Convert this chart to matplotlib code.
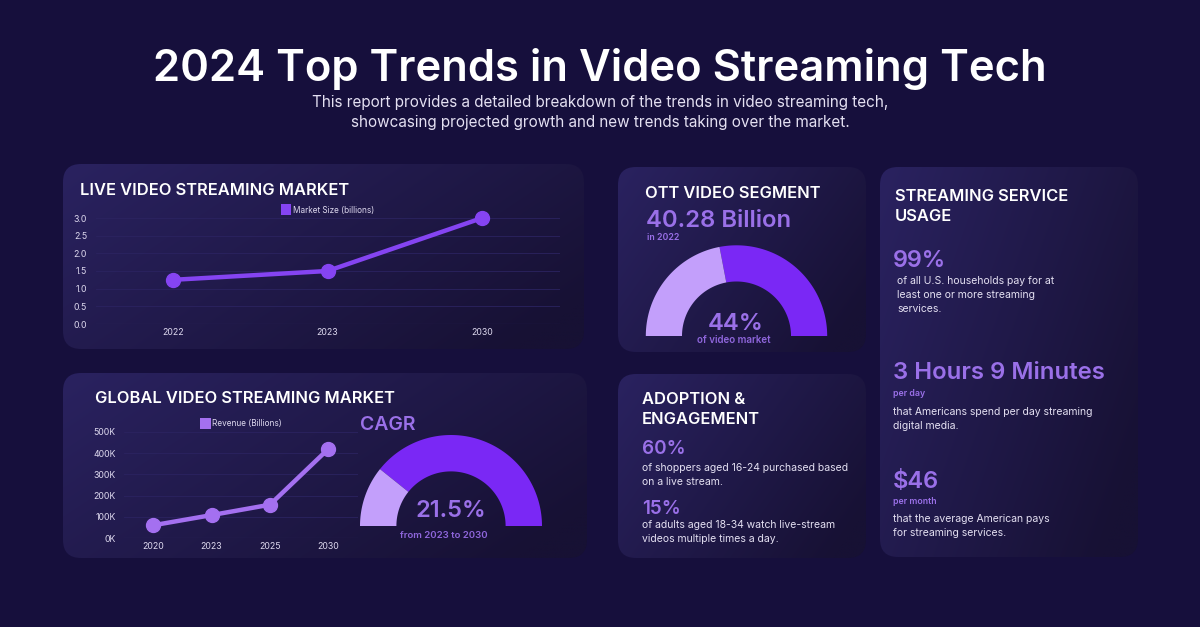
import matplotlib
matplotlib.use('Agg')
import matplotlib.pyplot as plt
import numpy as np
from matplotlib.patches import FancyBboxPatch, Rectangle

plt.rcParams['font.family'] = ['Inter', 'DejaVu Sans']

W, H = 1200, 627
BG = '#160f3c'
PURPLE = '#7a28f5'
LAVENDER = '#c39ffb'
ACCENT = '#9a70e8'
SOFT = '#8f66dc'
BODY = '#e4e0f2'
LINE1 = '#8544f2'
LINE2 = '#a470f0'
HEAD = 11.85

title = '2024 Top Trends in Video Streaming Tech'
subtitle = ['This report provides a detailed breakdown of the trends in video streaming tech,',
            'showcasing projected growth and new trends taking over the market.']

live_years = ['2022', '2023', '2030']
live_values = [1.25, 1.5, 3.0]
live_ticks = [0.0, 0.5, 1.0, 1.5, 2.0, 2.5, 3.0]

global_years = ['2020', '2023', '2025', '2030']
global_values = [60, 108, 157, 420]
global_ticks = [0, 100, 200, 300, 400, 500]

ott_share = 44
cagr_share = 21.5

fig = plt.figure(figsize=(W / 100, H / 100), dpi=100, facecolor=BG)
bg = fig.add_axes([0, 0, 1, 1])
bg.set_xlim(0, W)
bg.set_ylim(H, 0)
bg.axis('off')


def card(x0, y0, x1, y1, r=18):
    g = np.linspace(0, 1, 256)
    gx, gy = np.meshgrid(g, g)
    t = np.clip(0.72 * gx + 0.38 * gy, 0, 1)[..., None]
    c0 = np.array([0x2a, 0x22, 0x60]) / 255
    c1 = np.array([0x17, 0x11, 0x34]) / 255
    img = c0 * (1 - t) + c1 * t
    im = bg.imshow(img, extent=[x0, x1, y1, y0], aspect='auto', zorder=1)
    p = FancyBboxPatch((x0 + r, y0 + r), x1 - x0 - 2 * r, y1 - y0 - 2 * r,
                       boxstyle=f'round,pad={r},rounding_size={r}', fc='none', ec='none',
                       transform=bg.transData)
    bg.add_patch(p)
    im.set_clip_path(p)


for box in [(63, 164, 584, 349), (63, 373, 587, 558), (618, 167, 866, 352),
            (618, 374, 866, 558), (880, 167, 1138, 557)]:
    card(*box)
bg.set_xlim(0, W)
bg.set_ylim(H, 0)


def txt(x, y, s, size, color='white', weight='normal', ha='left'):
    bg.text(x, y + size * 0.12, s, fontsize=size, color=color, fontweight=weight,
            ha=ha, va='center', zorder=5)


def gauge(cx, cy, R, r, light_pct):
    split = 180 - 180 * light_pct / 100
    for a, b, col in [(0, split, PURPLE), (split, 180, LAVENDER)]:
        th = np.radians(np.linspace(a, b, 120))
        xs = np.r_[cx + R * np.cos(th), cx + r * np.cos(th[::-1])]
        ys = np.r_[cy - R * np.sin(th), cy - r * np.sin(th[::-1])]
        bg.fill(xs, ys, color=col, lw=0, zorder=3)


def chart(x0, x1, ytop, ybot, cats, vals, ticks, ymax, color, fmt):
    ax = fig.add_axes([x0 / W, 1 - ybot / H, (x1 - x0) / W, (ybot - ytop) / H])
    ax.patch.set_alpha(0)
    x = np.arange(len(cats))
    ax.plot(x, vals, color=color, lw=3.2, marker='o', ms=10, solid_capstyle='round',
            clip_on=False, zorder=4)
    ax.set_xlim(-0.5, len(cats) - 0.5)
    ax.set_ylim(0, ymax)
    ax.set_xticks(x, cats)
    ax.set_yticks(ticks, [fmt(t) for t in ticks])
    ax.tick_params(length=0, labelsize=6.3, labelcolor='#ddd8ee', pad=6)
    ax.tick_params(axis='x', pad=3)
    ax.grid(axis='y', color='#2b2360', lw=0.6)
    ax.set_axisbelow(True)
    for s in ax.spines.values():
        s.set_visible(False)
    ax.axhline(0, color='#3a3170', lw=0.8)
    return ax


bg.text(600, 68.5, title, fontsize=31.4, color='white', fontweight='semibold',
        ha='center', va='center', zorder=5)
txt(600, 101.5, subtitle[0], 11, BODY, ha='center')
txt(600, 121.5, subtitle[1], 11, BODY, ha='center')

# Live
txt(80, 189, 'LIVE VIDEO STREAMING MARKET', HEAD, weight='semibold')
chart(95.5, 559.5, 218, 324, live_years, live_values, live_ticks, 3.0, LINE1,
      lambda t: f'{t:.1f}')
bg.add_patch(Rectangle((281, 204), 10, 10.5, fc=LINE1, zorder=5))
txt(293, 209.5, 'Market Size (billions)', 5.9, '#ddd8ee')

# Global
txt(95, 397, 'GLOBAL VIDEO STREAMING MARKET', HEAD, weight='semibold')
chart(124, 357.5, 432, 538, global_years, global_values, global_ticks, 500, LINE2,
      lambda t: f'{t}K')
bg.add_patch(Rectangle((200, 418), 10.5, 10.5, fc=LINE2, zorder=5))
txt(212, 423, 'Revenue (Billions)', 5.9, '#ddd8ee')
txt(360, 423, 'CAGR', 14, ACCENT, 'semibold')
gauge(451, 526, 91, 54.6, cagr_share)
txt(451, 509, f'{cagr_share}%', 17, ACCENT, 'semibold', ha='center')
txt(443.5, 535, 'from 2023 to 2030', 6.9, SOFT, 'semibold', ha='center')

# OTT
txt(645, 192, 'OTT VIDEO SEGMENT', HEAD, weight='semibold')
txt(646, 219, '40.28 Billion', 17.2, ACCENT, 'semibold')
txt(647, 236.5, 'in 2022', 6.3, ACCENT, 'semibold')
gauge(736.5, 336, 90.7, 54.5, ott_share)
txt(736, 321.5, f'{ott_share}%', 17.2, ACCENT, 'semibold', ha='center')
txt(734, 339, 'of video market', 7, SOFT, 'semibold', ha='center')

# Adoption
txt(642, 398, 'ADOPTION &', HEAD, weight='semibold')
txt(642, 418, 'ENGAGEMENT', HEAD, weight='semibold')
txt(642, 447, '60%', 13.6, ACCENT, 'semibold')
txt(642, 467, 'of shoppers aged 16-24 purchased based', 7.5, BODY)
txt(642, 481, 'on a live stream.', 7.5, BODY)
txt(642, 507, '15%', 13.6, ACCENT, 'semibold')
txt(642, 524, 'of adults aged 18-34 watch live-stream', 7.5, BODY)
txt(642, 538, 'videos multiple times a day.', 7.5, BODY)

# Usage
txt(895, 195, 'STREAMING SERVICE', HEAD, weight='semibold')
txt(895, 215, 'USAGE', HEAD, weight='semibold')
txt(893, 259, '99%', 16.8, ACCENT, 'semibold')
txt(897, 280, 'of all U.S. households pay for at', 7.5, BODY)
txt(897, 294.5, 'least one or more streaming', 7.5, BODY)
txt(897, 308.5, 'services.', 7.5, BODY)
txt(893, 371, '3 Hours 9 Minutes', 17.25, ACCENT, 'semibold')
txt(893, 393, 'per day', 6.3, ACCENT, 'semibold')
txt(893, 411, 'that Americans spend per day streaming', 7.5, BODY)
txt(893, 425, 'digital media.', 7.5, BODY)
txt(893, 480, '$46', 17, ACCENT, 'semibold')
txt(893, 500.5, 'per month', 6.3, ACCENT, 'semibold')
txt(893, 518, 'that the average American pays', 7.5, BODY)
txt(893, 532.5, 'for streaming services.', 7.5, BODY)

fig.savefig('out.png', dpi=100, facecolor=BG)
